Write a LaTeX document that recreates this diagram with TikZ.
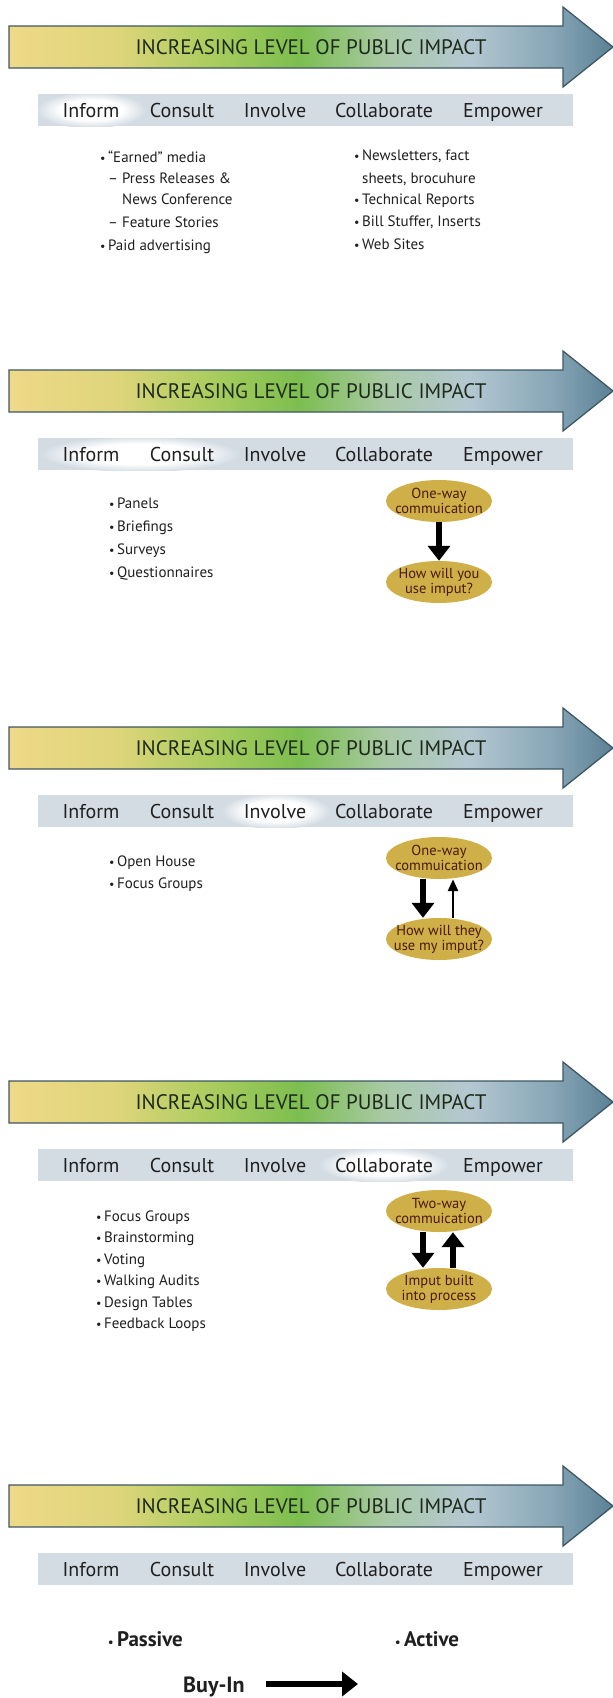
\documentclass[tikz,border=0pt]{standalone}
\usepackage{fontspec}
\setmainfont{PT Sans}
\usetikzlibrary{arrows.meta, positioning, shapes.geometric, calc}
\definecolor{bandA}{HTML}{EED988}
\definecolor{bandB}{HTML}{DED57A}
\definecolor{bandC}{HTML}{A9CC5E}
\definecolor{bandD}{HTML}{7CBE4F}
\definecolor{bandE}{HTML}{A8C9A4}
\definecolor{bandF}{HTML}{B4C8D1}
\definecolor{bandG}{HTML}{87A6B6}
\definecolor{bandH}{HTML}{5B8195}
\definecolor{bandline}{HTML}{3E5763}
\definecolor{bandink}{HTML}{1E2A1C}
\definecolor{panelgray}{HTML}{D3DCE3}
\definecolor{oval}{HTML}{CFAF47}
\definecolor{ovaltext}{HTML}{4A1A10}
\definecolor{ink}{HTML}{1F1F1F}
\pgfdeclarehorizontalshading{impact}{100bp}{color(0bp)=(bandA); color(25bp)=(bandA); color(34bp)=(bandB); color(42bp)=(bandC); color(49bp)=(bandD); color(56bp)=(bandE); color(63bp)=(bandF); color(70bp)=(bandG); color(75bp)=(bandH); color(100bp)=(bandH)}
\pgfdeclareradialshading{glow}{\pgfpoint{0bp}{0bp}}{color(0bp)=(white); color(14bp)=(white); color(25bp)=(panelgray); color(50bp)=(panelgray)}
\newcommand{\dotitem}{{\fontsize{12}{12}\selectfont\textbullet}\,}

\begin{document}
\begin{tikzpicture}[x=1pt, y=-1pt,
  every node/.style={inner sep=0pt},
  bandtext/.style={anchor=base, font=\fontsize{21}{21}\selectfont, text=bandink},
  stage/.style={anchor=base, font=\fontsize{20}{20}\selectfont, text=ink},
  item/.style={anchor=base west, font=\fontsize{15}{15}\selectfont, text=ink},
  bolditem/.style={anchor=base west, font=\fontsize{21}{21}\selectfont\bfseries, text=ink},
  oval/.style={ellipse, fill=oval, minimum width=106pt, minimum height=42pt, align=center,
    inner xsep=-14pt, inner ysep=-3pt, text=ovaltext, font=\fontsize{14.5}{15}\selectfont},
  bigarr/.style={line width=6.5pt, -{Triangle[width=22pt, length=15pt]}},
  thinarr/.style={line width=2.6pt, -{Triangle[width=10pt, length=12pt]}}]
  \fill[white] (0,0) rectangle (613,1698);
  \useasboundingbox (0,0) rectangle (613,1698);

  % Impact arrows and stage panels
  \foreach \n/\a/\g/\r in {1/47/91/55, 2/391/140/100, 3/748/276/55, 4/1102/384/65, 5/1506/0/0}{
    \pgfmathsetmacro\p{\a+63}
    \shadedraw[shading=impact, draw=bandline, line width=1.3pt]
      (9,\a-21) -- (563,\a-21) -- (563,\a-40) -- (613,\a) -- (563,\a+40) -- (563,\a+21) -- (9,\a+21) -- cycle;
    \node[bandtext] (impact-\n) at (311,\a+7.5) {INCREASING LEVEL OF PUBLIC IMPACT};
    \fill[panelgray] (38,\p-16) rectangle (573,\p+16);
    \ifnum\g>0
      \begin{scope}
        \clip (38,\p-16) rectangle (573,\p+16);
        \shade[shading=glow] (\g,\p) ellipse ({\r pt} and 18pt);
      \end{scope}
    \fi
    \foreach \s/\x in {Inform/91, Consult/182, Involve/275, Collaborate/384, Empower/503}
      \node[stage] (\s-\n) at (\x,\p+7) {\s};
  }

  % Inform
  \node[item] (earned) at (100,162) {\dotitem “Earned” media};
  \node[item] (press) at (108,183) {– Press Releases \&};
  \node[item] (newsconf) at (122,204) {News Conference};
  \node[item] (feature) at (108,227) {– Feature Stories};
  \node[item] (paid) at (100,250) {\dotitem Paid advertising};
  \node[item] (newsletters) at (354,160) {\dotitem Newsletters, fact};
  \node[item] (sheets) at (362,183) {sheets, brocuhure};
  \node[item] (techrep) at (354,204) {\dotitem Technical Reports};
  \node[item] (stuffer) at (354,226) {\dotitem Bill Stuffer, Inserts};
  \node[item] (websites) at (354,249) {\dotitem Web Sites};

  % Consult
  \node[item] (panels) at (109,508) {\dotitem Panels};
  \node[item] (briefings) at (109,531) {\dotitem Briefings};
  \node[item] (surveys) at (109,554) {\dotitem Surveys};
  \node[item] (quest) at (109,577) {\dotitem Questionnaires};
  \node[oval] (consult-top) at (439,501) {One-way\\commuication};
  \node[oval] (consult-bot) at (439,582) {How will you\\use imput?};
  \draw[bigarr] (consult-top.south) -- (consult-bot.north);

  % Involve
  \node[item] (openhouse) at (109,866) {\dotitem Open House};
  \node[item] (focus-inv) at (109,888) {\dotitem Focus Groups};
  \node[oval] (involve-top) at (439,858) {One-way\\commuication};
  \node[oval] (involve-bot) at (439,939) {How will they\\use my imput?};
  \draw[bigarr] ([xshift=-16pt]involve-top.south) -- ([xshift=-16pt]involve-bot.north);
  \draw[thinarr] ([xshift=14pt]involve-bot.north) -- ([xshift=14pt]involve-top.south);

  % Collaborate
  \node[item] (focus-col) at (96,1221) {\dotitem Focus Groups};
  \node[item] (brainstorm) at (96,1242.5) {\dotitem Brainstorming};
  \node[item] (voting) at (96,1264) {\dotitem Voting};
  \node[item] (walking) at (96,1285.5) {\dotitem Walking Audits};
  \node[item] (design) at (96,1307) {\dotitem Design Tables};
  \node[item] (feedback) at (96,1328.5) {\dotitem Feedback Loops};
  \node[oval] (collab-top) at (439,1211) {Two-way\\commuication};
  \node[oval] (collab-bot) at (439,1289) {Imput built\\into process};
  \draw[bigarr] ([xshift=-16pt]collab-top.south) -- ([xshift=-16pt]collab-bot.north);
  \draw[bigarr] ([xshift=14pt]collab-bot.north) -- ([xshift=14pt]collab-top.south);

  % Buy-in
  \node[bolditem] (passive) at (108,1646) {\dotitem Passive};
  \node[bolditem] (active) at (395,1646) {\dotitem Active};
  \node[bolditem, font=\fontsize{22}{22}\selectfont\bfseries] (buyin) at (183,1692) {Buy-In};
  \coordinate (buyend) at (358,1684);
  \draw[bigarr, -{Triangle[width=24pt, length=16pt]}] (buyend -| 266,0) -- (buyend);
\end{tikzpicture}
\end{document}
